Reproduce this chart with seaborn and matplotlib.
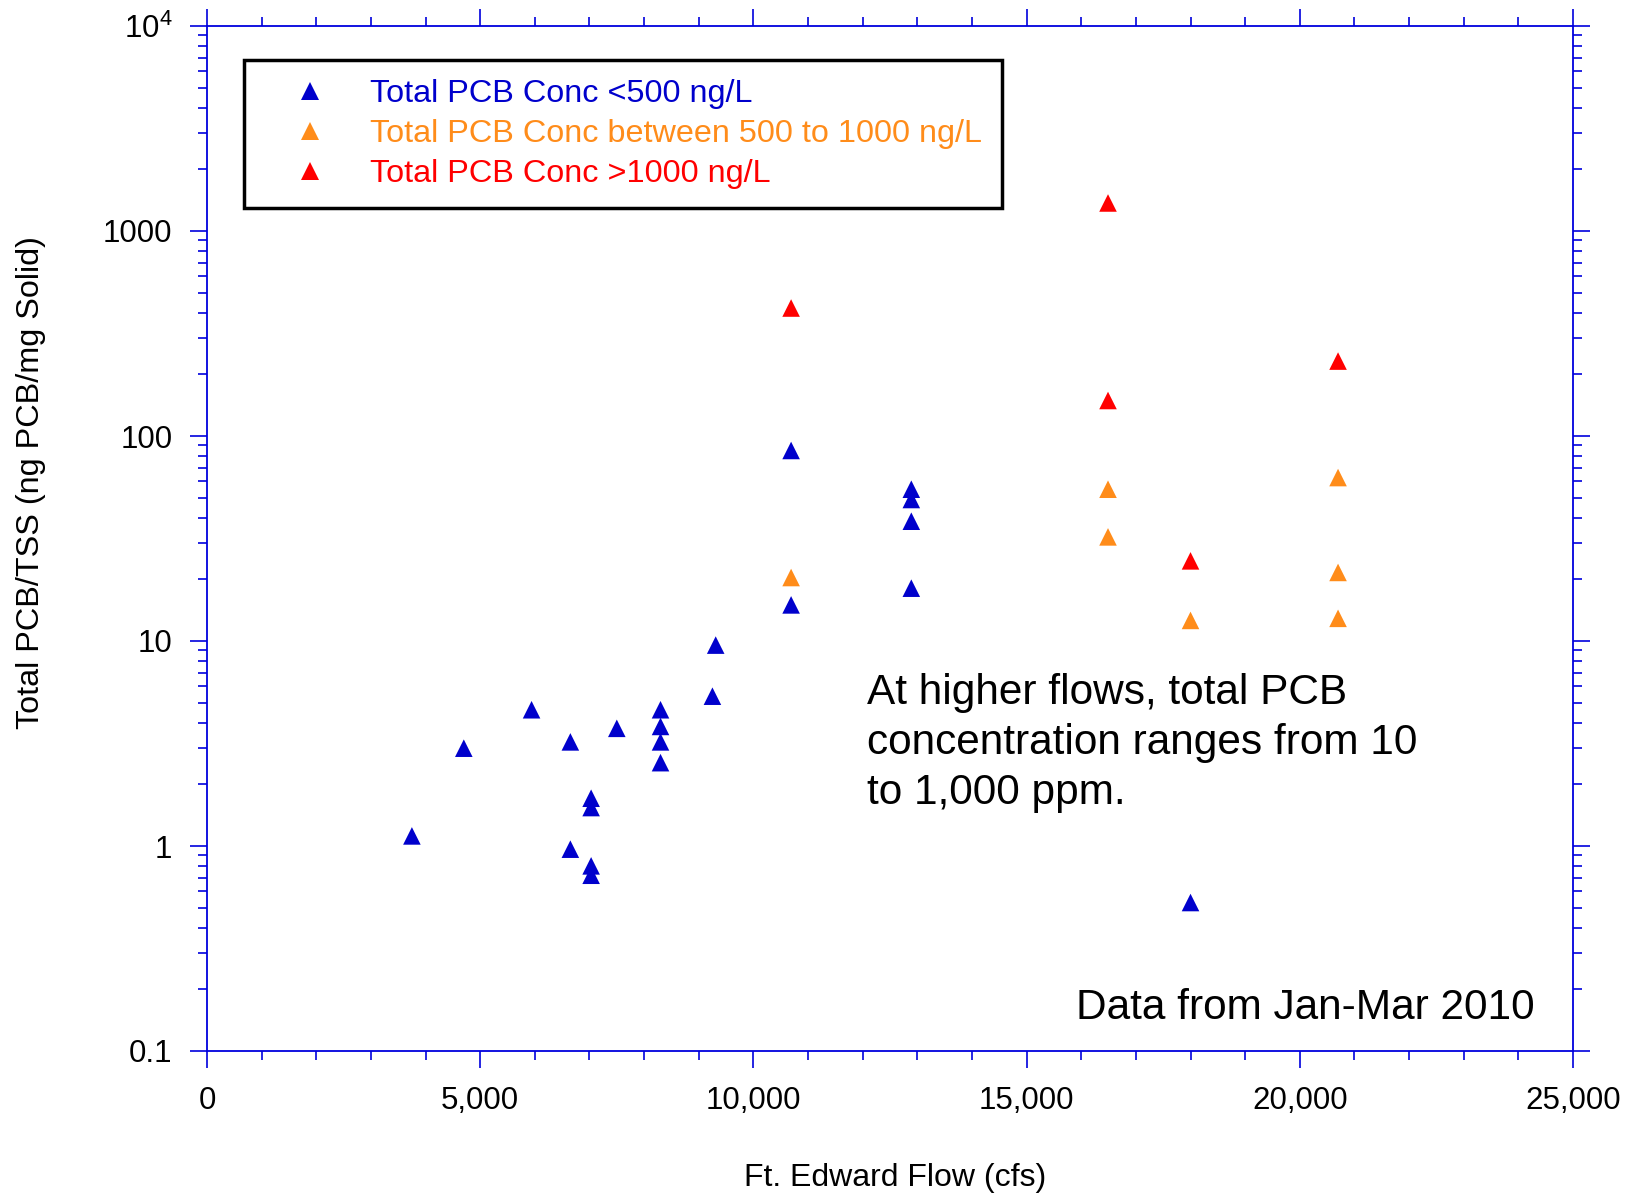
import numpy as np
import pandas as pd
import matplotlib
matplotlib.use("Agg")
import matplotlib.pyplot as plt
from matplotlib.lines import Line2D
from matplotlib.ticker import FixedLocator, FixedFormatter, MultipleLocator, LogLocator, NullFormatter
import seaborn as sns

# ---------------- data ----------------
low_flow = [3750, 4700, 5940, 6650, 6650, 7030, 7030, 7030, 7030, 7500,
            8300, 8300, 8300, 8300, 9250, 9310, 10690, 10690,
            12890, 12890, 12890, 12890, 18000]
low_ratio = [1.12, 3.00, 4.62, 3.22, 0.965, 1.71, 1.54, 0.80, 0.72, 3.75,
             4.62, 3.83, 3.22, 2.55, 5.38, 9.55, 85.0, 15.0,
             55.0, 49.0, 38.4, 18.1, 0.53]

mid_flow = [10690, 16490, 16490, 18000, 20700, 20700, 20700]
mid_ratio = [20.4, 55.0, 32.2, 12.6, 62.7, 21.6, 12.9]

high_flow = [10690, 16490, 16490, 18000, 20700]
high_ratio = [421, 1370, 149, 24.6, 232]

group_labels = ["Total PCB Conc <500 ng/L",
                "Total PCB Conc between 500 to 1000 ng/L",
                "Total PCB Conc >1000 ng/L"]
group_colors = ["#0000CC", "#FF8C1A", "#FF0000"]

y_tick_values = [0.1, 1, 10, 100, 1000, 10000]
y_tick_labels = ["0.1", "1", "10", "100", "1000", "$10^4$"]
x_tick_values = [0, 5000, 10000, 15000, 20000, 25000]
x_tick_labels = ["0", "5,000", "10,000", "15,000", "20,000", "25,000"]

x_label = "Ft. Edward Flow (cfs)"
y_label = "Total PCB/TSS (ng PCB/mg Solid)"
note_text = "At higher flows, total PCB\nconcentration ranges from 10\nto 1,000 ppm."
source_text = "Data from Jan-Mar 2010"

# ---------------- style ----------------
sns.set_style("white")
plt.rcParams["font.family"] = ["Liberation Sans", "DejaVu Sans"]
plt.rcParams["mathtext.default"] = "regular"
plt.rcParams["text.color"] = "black"
plt.rcParams["axes.labelcolor"] = "black"

df = pd.DataFrame({
    "flow": low_flow + mid_flow + high_flow,
    "ratio": low_ratio + mid_ratio + high_ratio,
    "group": [group_labels[0]] * len(low_flow) + [group_labels[1]] * len(mid_flow)
             + [group_labels[2]] * len(high_flow),
})

W, H = 1631, 1197
fig = plt.figure(figsize=(W / 100, H / 100), dpi=100)
ax_l, ax_r, ax_t, ax_b = 207, 1573, 26, 1051
ax = fig.add_axes([ax_l / W, 1 - ax_b / H, (ax_r - ax_l) / W, (ax_b - ax_t) / H])

sns.scatterplot(data=df, x="flow", y="ratio", hue="group", hue_order=group_labels,
                palette=dict(zip(group_labels, group_colors)), marker="^", s=160,
                linewidth=0, legend=False, ax=ax, zorder=3)

ax.set_yscale("log")
ax.set_xlim(0, 25000)
ax.set_ylim(0.1, 10000)

axis_blue = "#0000DD"
for sp in ax.spines.values():
    sp.set_color(axis_blue)
    sp.set_linewidth(1.3)
    sp.set_visible(True)

ax.xaxis.set_major_locator(FixedLocator(x_tick_values))
ax.xaxis.set_major_formatter(FixedFormatter(x_tick_labels))
ax.xaxis.set_minor_locator(MultipleLocator(1000))
ax.yaxis.set_major_locator(FixedLocator(y_tick_values))
ax.yaxis.set_major_formatter(FixedFormatter(y_tick_labels))
ax.yaxis.set_minor_locator(LogLocator(base=10, subs=np.arange(2, 10)))
ax.yaxis.set_minor_formatter(NullFormatter())

ax.tick_params(which="both", direction="out", color=axis_blue, labelcolor="black",
               top=True, right=True, bottom=True, left=True, width=1.2)
ax.tick_params(which="major", length=12, pad=13, labelsize=22.5)
ax.tick_params(which="minor", length=6.5)
ax.tick_params(axis="both", labeltop=False, labelright=False)

ax.set_xlabel("")
ax.set_ylabel("")
fig.text(895 / W, 1 - 1178 / H, x_label, ha="center", va="center", fontsize=23)
fig.text(31 / W, 1 - 483 / H, y_label, ha="center", va="center", rotation=90, fontsize=23.3)

# notes
fig.text(867 / W, 1 - 673 / H, note_text, ha="left", va="top", fontsize=30.5,
         linespacing=1.33)
fig.text(1535 / W, 1 - 1019 / H, source_text, ha="right", va="baseline", fontsize=30.5)

# legend
handles = [Line2D([0], [0], marker="^", linestyle="none", markersize=12.5,
                  markerfacecolor=c, markeredgewidth=0) for c in group_colors]
leg = ax.legend(handles, group_labels, loc="upper left",
                bbox_to_anchor=(244 / W, 1 - 60 / H), bbox_transform=fig.transFigure,
                fontsize=23.3, frameon=True, fancybox=False, framealpha=1,
                edgecolor="black", borderpad=0.6, labelspacing=0.3,
                handlelength=2.9, handletextpad=0.4, borderaxespad=0)
leg.get_frame().set_linewidth(2.5)
for t, c in zip(leg.get_texts(), group_colors):
    t.set_color(c)

fig.savefig("out.png", dpi=100)
